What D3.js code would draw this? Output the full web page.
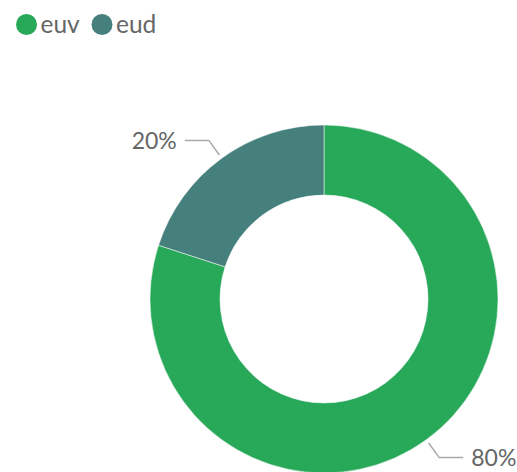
<!DOCTYPE html>
<html>
<head>
<meta charset="utf-8">
<script src="https://cdn.jsdelivr.net/npm/d3@7"></script>
<style>
  html, body { margin: 0; padding: 0; background: #fff; }
  svg { display: block; font-family: Lato, "Open Sans", sans-serif; }
</style>
</head>
<body>
<svg id="chart"></svg>
<script>
const labels = ['euv', 'eud'];
const values = [80, 20];
const colors = ['#28a95a', '#46807c'];

const width = 517;
const height = 472;
const cx = 324, cy = 299;
const outerR = 174, innerR = 104;

const svg = d3.select('#chart').attr('width', width).attr('height', height);

// legend
const legend = svg.append('g').attr('class', 'legend');
const legendX = [26.5, 102];
labels.forEach((name, i) => {
    const g = legend.append('g').attr('transform', `translate(${legendX[i]}, 24.5)`);
    g.append('circle').attr('r', 10.5).attr('fill', colors[i]);
    g.append('text')
        .attr('x', 14)
        .attr('y', 8)
        .attr('font-size', 24.5)
        .attr('fill', '#666')
        .text(name);
});

const total = d3.sum(values);
const pie = d3.pie().sort(null).value(d => d)(values);
const arc = d3.arc().innerRadius(innerR).outerRadius(outerR);

const chart = svg.append('g').attr('transform', `translate(${cx}, ${cy})`);

chart.selectAll('path')
    .data(pie)
    .join('path')
    .attr('d', arc)
    .attr('fill', (d, i) => colors[i])
    .attr('stroke', '#fff')
    .attr('stroke-width', 0.5);

// leader lines + labels
pie.forEach((d, i) => {
    const mid = (d.startAngle + d.endAngle) / 2;
    const sx = Math.sin(mid), sy = -Math.cos(mid);
    const p1 = [sx * (outerR + 4), sy * (outerR + 4)];
    const p2 = [sx * (outerR + 22), sy * (outerR + 22)];
    const side = sx >= 0 ? 1 : -1;
    const p3 = [p2[0] + side * 24, p2[1]];
    chart.append('polyline')
        .attr('points', [p1, p2, p3].map(p => p.join(',')).join(' '))
        .attr('fill', 'none')
        .attr('stroke', '#aaa')
        .attr('stroke-width', 1.5);
    chart.append('text')
        .attr('x', p3[0] + side * 8)
        .attr('y', p3[1])
        .attr('dy', '0.36em')
        .attr('text-anchor', side > 0 ? 'start' : 'end')
        .attr('font-size', 23)
        .attr('fill', '#666')
        .text(Math.round(d.value / total * 100) + '%');
});
</script>
</body>
</html>
